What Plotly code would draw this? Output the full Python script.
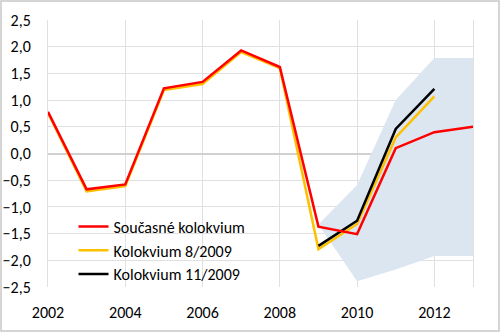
import plotly.graph_objects as go

years = list(range(2002, 2014))
current = [0.78, -0.67, -0.58, 1.22, 1.34, 1.93, 1.62, -1.37, -1.51, 0.10, 0.40, 0.50]
years_aug = list(range(2002, 2013))
aug2009 = [0.76, -0.71, -0.61, 1.19, 1.30, 1.90, 1.60, -1.79, -1.32, 0.30, 1.07]
years_nov = [2009, 2010, 2011, 2012]
nov2009 = [-1.73, -1.26, 0.46, 1.21]
band_years = [2009, 2010, 2011, 2012, 2013]
band_upper = [-1.33, -0.59, 1.00, 1.79, 1.79]
band_lower = [-1.33, -2.39, -2.17, -1.92, -1.92]

names = ["Současné kolokvium", "Kolokvium 8/2009", "Kolokvium 11/2009"]
y_ticks = [2.5, 2.0, 1.5, 1.0, 0.5, 0.0, -0.5, -1.0, -1.5, -2.0, -2.5]
x_ticks = [2002, 2004, 2006, 2008, 2010, 2012]

font = "Carlito, Lato, sans-serif"
fig = go.Figure()
fig.add_trace(go.Scatter(x=band_years + band_years[::-1], y=band_upper + band_lower[::-1],
                         fill="toself", fillcolor="#dce6f0", line=dict(width=0),
                         mode="lines", showlegend=False, hoverinfo="skip"))
fig.add_trace(go.Scatter(x=years_aug, y=aug2009, mode="lines", name=names[1],
                         line=dict(color="#ffc000", width=2.5), legendrank=2))
fig.add_trace(go.Scatter(x=years_nov, y=nov2009, mode="lines", name=names[2],
                         line=dict(color="#000000", width=2.5), legendrank=3))
fig.add_trace(go.Scatter(x=years, y=current, mode="lines", name=names[0],
                         line=dict(color="#ff0000", width=2.5), legendrank=1))

fig.update_layout(
    width=500, height=332,
    margin=dict(l=48, r=27, t=20, b=45),
    paper_bgcolor="white", plot_bgcolor="white",
    separators=", ",
    font=dict(family=font, size=16, color="#000000"),
    legend=dict(x=0.06, y=0.29, xanchor="left", yanchor="top",
                bgcolor="rgba(0,0,0,0)", itemwidth=30, tracegroupgap=0,
                font=dict(family=font, size=16)),
    xaxis=dict(range=[2002, 2013], tickvals=x_ticks, showgrid=True,
               gridcolor="#e0e0e0", gridwidth=1, zeroline=False, automargin=False,
               showline=False, ticks="", ticklabelstandoff=14),
    yaxis=dict(range=[-2.5, 2.5], tickvals=y_ticks, tickformat=".1f", automargin=False,
               showgrid=True, gridcolor="#e0e0e0", gridwidth=1,
               zeroline=True, zerolinecolor="#d0d0d0", zerolinewidth=2,
               showline=True, mirror=True, linecolor="#e0e0e0", linewidth=1,
               ticks="", ticklabelstandoff=13),
    shapes=[dict(type="rect", xref="paper", yref="paper",
                 x0=(1 - 48) / 425, x1=(499 - 48) / 425,
                 y0=(287 - 331) / 267, y1=(287 - 1) / 267,
                 line=dict(color="#c8c8c8", width=1.5), layer="below")],
)
fig.write_html("out.html")
